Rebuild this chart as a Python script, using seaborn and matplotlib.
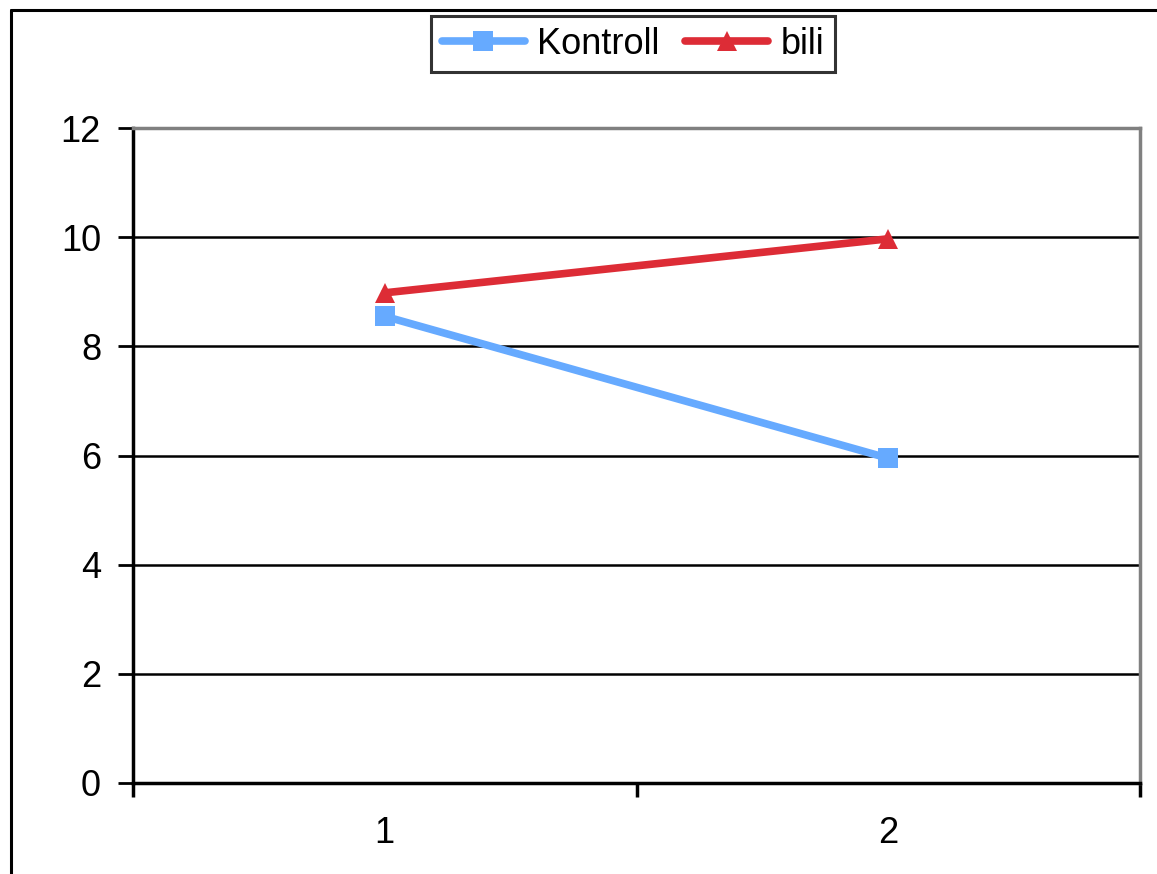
import matplotlib
matplotlib.use("Agg")
import matplotlib.pyplot as plt
import seaborn as sns
import pandas as pd
from matplotlib.lines import Line2D

# data
categories = ["1", "2"]
kontroll = [8.55, 5.95]
bili = [8.98, 9.97]
series_names = ["Kontroll", "bili"]

sns.set_style("white")
plt.rcParams['font.family'] = ['Liberation Sans', 'DejaVu Sans']
plt.rcParams['text.color'] = 'black'
plt.rcParams['xtick.color'] = 'black'
plt.rcParams['ytick.color'] = 'black'

df = pd.DataFrame({
    "pos": list(range(len(categories))) * 2,
    "value": kontroll + bili,
    "series": [series_names[0]] * len(kontroll) + [series_names[1]] * len(bili),
})

fig = plt.figure(figsize=(11.57, 8.74), dpi=100)
ax = fig.add_axes([133 / 1157, 1 - 783 / 874, (1140 - 133) / 1157, (783 - 128) / 874])

palette = {"Kontroll": "#66AAFF", "bili": "#DD2C36"}
sns.lineplot(data=df, x="pos", y="value", hue="series", style="series",
             markers={"Kontroll": "s", "bili": "^"}, dashes=False,
             palette=palette, linewidth=5.5, markersize=15,
             markeredgewidth=0, ax=ax)

ax.set_xlim(-0.5, len(categories) - 0.5)
ax.set_ylim(0, 12)
ax.set_yticks(range(0, 13, 2))
ax.set_xticks(range(len(categories)))
ax.set_xticklabels(categories)
ax.set_xticks([-0.5, 0.5, 1.5], minor=True)
ax.tick_params(axis="x", which="major", length=0, pad=24, labelsize=26, labelcolor="black")
ax.tick_params(axis="x", which="minor", length=10, width=2.5, color="black", direction="out", bottom=True)
ax.tick_params(axis="y", length=11, width=2, color="black", direction="out", left=True, pad=12,
               labelsize=26, labelcolor="black")
ax.set_xlabel("")
ax.set_ylabel("")

ax.grid(axis="y", color="black", linewidth=1.8)
ax.set_axisbelow(True)
for side in ["left", "bottom"]:
    ax.spines[side].set_color("black")
    ax.spines[side].set_linewidth(2.5)
for side in ["top", "right"]:
    ax.spines[side].set_color("#808080")
    ax.spines[side].set_linewidth(2.5)

leg = ax.legend(loc="center", bbox_to_anchor=(633 / 1157, 1 - 44 / 874),
                bbox_transform=fig.transFigure, ncol=2, fontsize=26,
                frameon=True, fancybox=False, handlelength=2.3,
                columnspacing=0.7, handletextpad=0.35, borderpad=0.3)
leg.get_frame().set_edgecolor("black")
leg.get_frame().set_linewidth(2.2)
for t in leg.get_texts():
    t.set_color("black")

# outer chart border (left and top visible)
fig.add_artist(Line2D([11 / 1157, 11 / 1157], [0, 1 - 10 / 874], color="black", linewidth=2.2))
fig.add_artist(Line2D([11 / 1157, 1], [1 - 10 / 874, 1 - 10 / 874], color="black", linewidth=2.2))

fig.savefig("out.png", dpi=100)
